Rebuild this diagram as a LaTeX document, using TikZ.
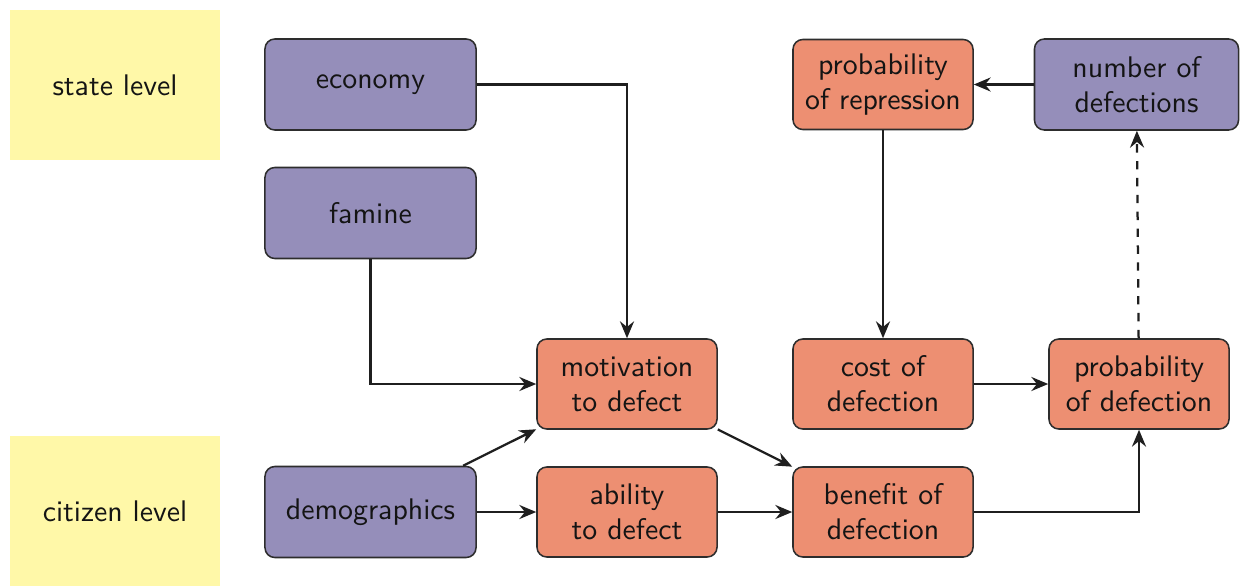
\documentclass[tikz,border=0pt]{standalone}
\usepackage{fontspec}
\usetikzlibrary{arrows.meta}
\definecolor{levelyellow}{RGB}{255,248,168}
\definecolor{statepurple}{RGB}{149,142,186}
\definecolor{citizensalmon}{RGB}{237,143,114}
\definecolor{edgegray}{RGB}{45,45,45}

\tikzset{
    level/.style={fill=levelyellow, minimum width=2.625cm, minimum height=1.875cm},
    statebox/.style={draw=edgegray, line width=0.55pt, fill=statepurple, rounded corners=3.5pt,
        minimum width=2.6375cm, minimum height=1.1375cm, align=center},
    citbox/.style={draw=edgegray, line width=0.55pt, fill=citizensalmon, rounded corners=3.5pt,
        minimum width=2.25cm, minimum height=1.125cm, align=center},
    link/.style={line width=0.8pt, draw=black!88, -{Stealth[length=6pt, width=5pt, inset=2pt]}}
}

\begin{document}
\begin{tikzpicture}[x=0.0125cm, y=-0.0125cm,
    font=\sffamily\fontsize{10.6pt}{12.5pt}\selectfont, text=black!92]
    \useasboundingbox (0,0) rectangle (1241,586);

    % levels
    \node[level] (state) at (115,85) {state level};
    \node[level, minimum height=1.8625cm] (citizen) at (115,511) {citizen level};

    % state variables
    \node[statebox] (economy) at (370.5,84.5) {economy};
    \node[statebox] (famine) at (370.5,213) {famine};
    \node[statebox] (demographics) at (370.5,512) {demographics};
    \node[statebox, minimum width=2.55cm] (defections) at (1136.5,84.5) {number of\\defections};

    % citizen variables
    \node[citbox] (motivation) at (627,384) {motivation\\to defect};
    \node[citbox] (ability) at (627,512) {ability\\to defect};
    \node[citbox] (benefit) at (883,512) {benefit of\\defection};
    \node[citbox] (cost) at (883,384) {cost of\\defection};
    \node[citbox] (repression) at (883,84.5) {probability\\of repression};
    \node[citbox] (probdef) at (1139,384) {probability\\of defection};

    % connections
    \draw[link] (economy.east) -| (motivation.north);
    \draw[link] (famine.south) |- (motivation.west);
    \draw[link] (demographics) -- (motivation);
    \draw[link] (demographics) -- (ability);
    \draw[link] (motivation) -- (benefit);
    \draw[link] (ability) -- (benefit);
    \draw[link] (benefit.east) -| (probdef.south);
    \draw[link] (cost) -- (probdef);
    \draw[link] (repression) -- (cost);
    \draw[link] (defections) -- (repression);
    \draw[link, dashed] (probdef) -- (defections);
\end{tikzpicture}
\end{document}
